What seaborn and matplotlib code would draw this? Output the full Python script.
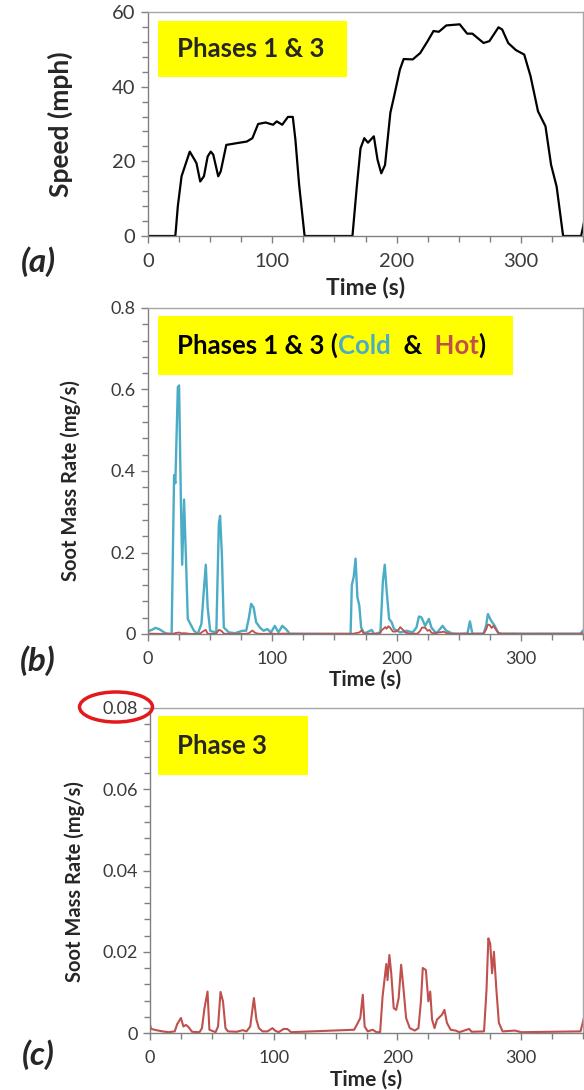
import matplotlib
matplotlib.use("Agg")
import matplotlib.pyplot as plt
from matplotlib.patches import Rectangle, Ellipse
from matplotlib.ticker import MultipleLocator, FuncFormatter
import seaborn as sns
import pandas as pd

# speed trace, phases 1 & 3
speed_t = [0, 22, 24, 27, 33.6, 37.5, 39, 42, 45, 48, 50.5, 52.5, 56.5, 58.5, 63, 72, 79.5, 84,
           88.6, 94.6, 100.6, 103.6, 108, 112.6, 116.5, 118.6, 121.6, 126, 164.5, 168, 171, 174,
           177, 181.7, 184.7, 187.7, 190.7, 195, 198, 202.7, 205.7, 213, 219, 225, 229.7, 234,
           240, 250.8, 256.8, 261, 270, 274.7, 282, 285, 289.8, 296, 302.7, 307.8, 313.8, 319.8,
           324.3, 328.8, 334, 348.5, 351]
speed_mph = [0, 0, 8, 16, 22.6, 20.4, 19.5, 14.6, 16, 21.3, 22.6, 21.8, 16, 17.3, 24.4, 24.9, 25.3,
             26.2, 30, 30.4, 29.8, 30.7, 29.8, 31.9, 31.9, 25.8, 13.7, 0, 0, 13.2, 23.5, 26.2, 25,
             26.7, 20.4, 16.8, 19, 33, 37.4, 44.6, 47.4, 47.3, 49, 52.2, 54.9, 54.7, 56.4, 56.7,
             54.2, 54.2, 51.7, 52.2, 55.9, 55.3, 51.7, 49.8, 48.6, 42.8, 33.4, 29.4, 19.1, 13.2,
             0, 0, 4]

# soot mass rate, cold start (phases 1 & 3)
cold_t = [0, 3, 6, 9, 14, 19, 21, 22, 24, 25, 26.5, 27.5, 29, 30.5, 32, 34, 37, 40, 43, 45, 46.5,
          48, 50, 54, 55, 57, 58, 59.5, 61, 65, 70, 76, 79, 81, 83, 85, 87, 90, 93, 96, 99, 102,
          105, 108, 111, 114, 163, 164, 165.5, 167, 168.5, 170, 171.5, 174, 180, 182, 187, 189,
          190.5, 192, 194, 196, 198, 203, 208, 213, 216, 218, 220, 223, 226, 228, 232, 237, 240,
          245, 257, 259, 261, 270, 272, 273.5, 276, 279, 282, 348, 351]
cold_rate = [0.007, 0.01, 0.015, 0.012, 0.002, 0, 0.39, 0.37, 0.605, 0.61, 0.32, 0.17, 0.33, 0.19,
             0.037, 0.025, 0.008, 0, 0.025, 0.11, 0.17, 0.065, 0.008, 0.004, 0.008, 0.27, 0.29,
             0.19, 0.016, 0.004, 0.002, 0.008, 0.008, 0.037, 0.074, 0.065, 0.029, 0.016, 0.008,
             0.012, 0.004, 0.02, 0.004, 0.02, 0.012, 0.001, 0, 0.12, 0.14, 0.185, 0.09, 0.07,
             0.016, 0.001, 0.01, 0, 0.004, 0.13, 0.17, 0.106, 0.037, 0.029, 0.012, 0.004, 0.008,
             0.004, 0.016, 0.043, 0.041, 0.02, 0.037, 0.016, 0.001, 0.02, 0.008, 0.001, 0.001,
             0.031, 0.001, 0.001, 0.02, 0.049, 0.033, 0.02, 0.001, 0.001, 0.012]

# soot mass rate, hot start (phase 3)
hot_t = [0, 1, 5, 10, 15, 20, 22, 25, 27, 29, 31, 34, 40, 42, 44, 46.5, 48, 53, 55, 57, 59, 61,
         63, 70, 75, 78, 81, 84, 86, 88, 91, 95, 99, 101, 104, 108, 111, 114, 165, 168, 170, 172,
         173.5, 176, 180, 183, 186, 188, 191, 192, 193.5, 195, 197, 199, 201, 203, 205, 207, 210,
         214, 217, 219, 220.5, 223, 225, 226.5, 228, 230, 232, 234, 236, 238, 240, 243, 247, 250,
         258, 260, 270, 272, 273.5, 275, 276.5, 278, 280, 282, 285, 295, 300, 348, 351]
hot_rate = [0.002, 0.001, 0.0007, 0.0004, 0.0002, 0.0004, 0.0022, 0.0037, 0.0016, 0.002, 0.0015,
            0.0003, 0.0002, 0.0012, 0.006, 0.0102, 0.0008, 0.0002, 0.0016, 0.0101, 0.0078,
            0.0012, 0.0004, 0.0003, 0.0007, 0.0004, 0.0016, 0.0086, 0.0033, 0.0012, 0.0004,
            0.0004, 0.0012, 0.0006, 0.0002, 0.001, 0.001, 0.0002, 0.0008, 0.0025, 0.0037, 0.0094,
            0.0016, 0.0004, 0.0008, 0.0002, 0.0002, 0.009, 0.017, 0.013, 0.0192, 0.0147, 0.0061,
            0.0057, 0.0086, 0.0168, 0.0106, 0.0037, 0.0012, 0.0006, 0.0012, 0.0078, 0.016,
            0.0155, 0.0078, 0.0102, 0.0033, 0.0012, 0.0033, 0.0039, 0.0045, 0.0057, 0.0025,
            0.0008, 0.0006, 0.0002, 0.001, 0.0003, 0.0004, 0.0106, 0.0233, 0.022, 0.0147, 0.020,
            0.0106, 0.0025, 0.0004, 0.0006, 0.0002, 0.0004, 0.004]

speed = pd.DataFrame({"t": speed_t, "v": speed_mph})
cold = pd.DataFrame({"t": cold_t, "v": cold_rate})
hot = pd.DataFrame({"t": hot_t, "v": hot_rate})

COLD = "#4bacc6"
HOT = "#c0504d"
YELLOW = "#ffff00"

sns.set_style("white")
plt.rcParams["font.family"] = ["Lato", "DejaVu Sans"]

fig = plt.figure(figsize=(5.84, 10.9), dpi=100)
ax_a = fig.add_axes([148 / 584, 1 - 236 / 1090, 435 / 584, 224 / 1090])
ax_b = fig.add_axes([148 / 584, 1 - 634 / 1090, 435 / 584, 326 / 1090])
ax_c = fig.add_axes([150 / 584, 1 - 1033 / 1090, 433 / 584, 325 / 1090])

sns.lineplot(data=speed, x="t", y="v", ax=ax_a, color="black", lw=1.6, estimator=None)
sns.lineplot(data=cold, x="t", y="v", ax=ax_b, color=COLD, lw=1.7, estimator=None)
sns.lineplot(data=hot, x="t", y="v", ax=ax_b, color=HOT, lw=1.3, estimator=None)
sns.lineplot(data=hot, x="t", y="v", ax=ax_c, color=HOT, lw=1.5, estimator=None)


def style_axes(ax, ymax, ymajor, yminor, ylabel, ylab_xy, xlab_y, tick_fs, xlab_fs, ylab_fs):
    ax.set_xlim(0, 350)
    ax.set_ylim(0, ymax)
    ax.xaxis.set_major_locator(MultipleLocator(100))
    ax.xaxis.set_minor_locator(MultipleLocator(25))
    ax.yaxis.set_major_locator(MultipleLocator(ymajor))
    ax.yaxis.set_minor_locator(MultipleLocator(yminor))
    ax.yaxis.set_major_formatter(FuncFormatter(lambda v, p: f"{v:g}"))
    ax.tick_params(axis="both", which="both", direction="out", color="#808080",
                   labelsize=tick_fs, labelcolor="#3a3a3a", bottom=True, left=True)
    ax.tick_params(axis="both", which="major", length=5, width=1)
    ax.tick_params(axis="both", which="minor", length=4.5, width=1)
    ax.tick_params(axis="x", which="major", pad=7)
    ax.tick_params(axis="y", which="major", pad=4)
    for side, sp in ax.spines.items():
        sp.set_visible(True)
        sp.set_linewidth(1.0)
        sp.set_color("#808080" if side in ("left", "bottom") else "#a6a6a6")
    ax.set_xlabel("Time (s)", fontsize=xlab_fs, fontweight="bold")
    ax.set_ylabel(ylabel, fontsize=ylab_fs, fontweight="bold")
    ax.xaxis.set_label_coords(0.5, xlab_y)
    ax.yaxis.set_label_coords(*ylab_xy)
    ax.grid(False)


style_axes(ax_a, 60, 20, 4, "Speed (mph)", (-0.172, 0.5), -0.18, 14.5, 16.5, 19)
style_axes(ax_b, 0.8, 0.2, 0.04, "Soot Mass Rate (mg/s)", (-0.154, 0.472), -0.11, 13, 15, 14.5)
style_axes(ax_c, 0.08, 0.02, 0.004, "Soot Mass Rate (mg/s)", (-0.15, 0.465), -0.114, 13, 15, 14.5)


def yellow_box(ax, x0, y0, x1, y1):
    ax.add_patch(Rectangle((x0, y0), x1 - x0, y1 - y0, transform=ax.transAxes,
                           facecolor=YELLOW, edgecolor="none", zorder=3))


yellow_box(ax_a, 0.023, 0.71, 0.457, 0.96)
ax_a.text(0.067, 0.835, "Phases 1 & 3", transform=ax_a.transAxes, fontsize=18.5,
          fontweight="bold", va="center", ha="left", zorder=4)

yellow_box(ax_b, 0.023, 0.794, 0.839, 0.975)
pieces = [("Phases 1 & 3 (", "black"), ("Cold", COLD), ("  &", "black"),
          ("  Hot", HOT), (")", "black")]
prev = ax_b.text(0.067, 0.886, pieces[0][0], transform=ax_b.transAxes, fontsize=18.5,
                 fontweight="bold", va="center", ha="left", color=pieces[0][1], zorder=4)
for s, c in pieces[1:]:
    prev = ax_b.annotate(s, xy=(1, 0), xycoords=prev, va="bottom", ha="left", fontsize=18.5,
                         fontweight="bold", color=c, zorder=4)

yellow_box(ax_c, 0.018, 0.794, 0.365, 0.975)
ax_c.text(0.062, 0.883, "Phase 3", transform=ax_c.transAxes, fontsize=18.5,
          fontweight="bold", va="center", ha="left", zorder=4)

# panel letters
for lab, ypx in (("(a)", 262), ("(b)", 661), ("(c)", 1055)):
    fig.text(38 / 584, 1 - ypx / 1090, lab, ha="center", va="center", fontsize=24,
             fontweight="bold", style="italic")

# red ring around the 0.08 tick label
fig.add_artist(Ellipse((116 / 584, 1 - 707 / 1090), 73 / 584, 30 / 1090,
                       transform=fig.transFigure, facecolor="none", edgecolor="#e3191c",
                       lw=2.5, clip_on=False))

fig.savefig("out.png", dpi=100)
